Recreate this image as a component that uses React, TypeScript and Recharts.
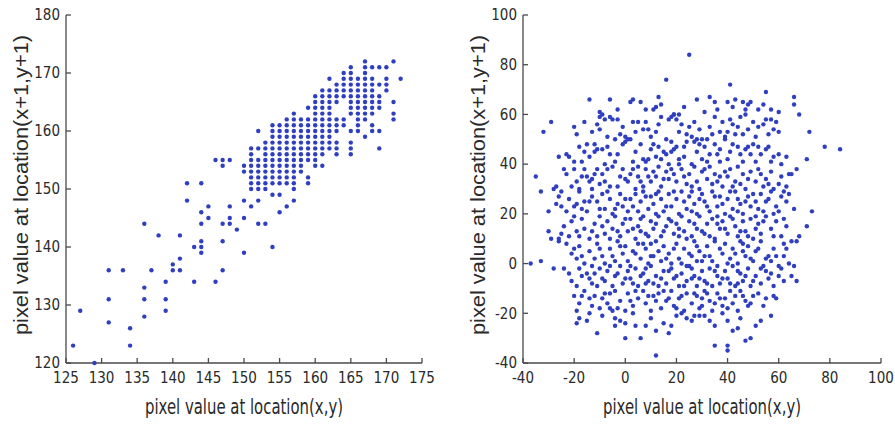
import { ScatterChart, Scatter, XAxis, YAxis } from 'recharts'

// left panel: pixel pairs of the original image, grouped by x column
const leftCols = [126, 127, 129, 131, 133, 134, 136, 137, 138, 139, 140, 141, 142, 143, 144, 145, 146, 147, 148, 149, 150,
  151, 152, 153, 154, 155, 156, 157, 158, 159, 160, 161, 162, 163, 164, 165, 166, 167, 168, 169, 170, 171, 172]
const leftRows = [
  [123], [129], [120], [136, 131, 127], [136], [126, 123], [144, 133, 131, 128], [136], [142], [134, 131, 129],
  [137, 136], [142, 138, 136], [151, 148], [140, 134], [151, 146, 144, 141, 140, 139], [147, 145], [155, 134],
  [155, 154, 144, 141, 136], [155, 147, 145, 144], [143], [154, 153, 148, 145, 139],
  [157, 156, 155, 154, 153, 152, 151, 150, 147],
  [160, 157, 155, 154, 153, 152, 151, 150, 148, 144],
  [158, 157, 156, 155, 154, 153, 152, 151, 150, 144],
  [161, 160, 159, 158, 157, 156, 155, 154, 153, 152, 151, 149, 140],
  [161, 160, 159, 158, 157, 156, 155, 154, 153, 152, 151, 149, 146],
  [162, 161, 160, 159, 158, 157, 156, 155, 154, 153, 152, 151, 147],
  [163, 162, 161, 160, 159, 158, 157, 156, 155, 154, 153, 152, 151, 150, 148],
  [162, 161, 160, 159, 158, 157, 156, 155, 154, 153],
  [164, 162, 161, 160, 159, 158, 157, 156, 155, 152, 151],
  [166, 165, 164, 163, 162, 161, 160, 159, 158, 157, 156, 155, 154],
  [167, 166, 165, 164, 163, 162, 161, 160, 159, 158, 157, 156, 154],
  [169, 167, 166, 165, 164, 163, 162, 161, 160, 159, 158, 157],
  [168, 167, 166, 165, 162, 161, 160, 158, 157, 156],
  [170, 169, 168, 167, 166, 162, 161],
  [171, 170, 169, 168, 167, 166, 165, 164, 163, 160, 158, 157, 156],
  [169, 168, 167, 166, 165, 164, 163, 162, 161, 160],
  [172, 171, 170, 169, 168, 167, 166, 165, 164, 163, 162, 159],
  [171, 169, 168, 167, 166, 165, 164, 163, 161, 160],
  [171, 168, 166, 165, 164, 160, 157],
  [171, 169, 168, 167],
  [172, 165, 163, 162],
  [169],
]
const leftXTicks = [125, 130, 135, 140, 145, 150, 155, 160, 165, 170, 175]
const leftYTicks = [120, 130, 140, 150, 160, 170, 180]

// right panel: differences as [x, y]
const rightPoints = [
  [25, 84], [16, 74], [41, 72],
  [-14, 66], [-6, 66], [2, 65], [3, 66], [6, 65], [12, 63], [13, 67], [28, 66], [33, 67], [35, 65], [40, 65], [43, 66],
  [46, 65], [48, 64], [49, 65], [54, 64], [55, 69], [57, 62], [60, 61], [66, 67], [66, 64], [68, 60], [-10, 61], [-9, 60],
  [14, 64], [19, 60], [21, 60], [31, 61], [42, 63], [52, 62], [11, 62],
  [-32, 53], [-29, 57], [-20, 55], [-19, 52], [-10, 54], [-10, 59], [-8, 58], [-6, 59], [-5, 58], [-3, 58], [-2, 52], [0, 51],
  [1, 50], [3, 57], [5, 57], [7, 54], [9, 54], [12, 53], [14, 59], [17, 58], [18, 59], [19, 60], [20, 58], [22, 56], [24, 52],
  [27, 57], [28, 50], [30, 50], [33, 55], [35, 59], [38, 57], [37, 53], [39, 51], [42, 56], [44, 55], [45, 59], [47, 60],
  [48, 54], [50, 57], [52, 55], [54, 56], [55, 58], [56, 52], [58, 54], [60, 53], [59, 57], [-13, 53], [-11, 56], [-4, 50],
  [8, 57], [16, 50], [26, 51], [32, 50], [41, 58], [43, 52],
  [-26, 43], [-23, 44], [-22, 43], [-20, 41], [-18, 47], [-16, 45], [-14, 43], [-12, 48], [-12, 45], [-11, 46], [-9, 46],
  [-7, 47], [-6, 44], [-3, 44], [-1, 48], [0, 49], [2, 50], [4, 45], [6, 48], [7, 42], [8, 41], [9, 42], [10, 46], [12, 43],
  [13, 47], [15, 45], [16, 44], [18, 45], [18, 49], [19, 46], [21, 42], [23, 43], [24, 49], [26, 40], [27, 49], [28, 45],
  [30, 42], [31, 47], [33, 44], [35, 48], [37, 41], [37, 46], [39, 50], [41, 45], [42, 48], [44, 47], [45, 44], [47, 46],
  [48, 47], [50, 48], [51, 41], [53, 44], [55, 46], [56, 47], [58, 43], [60, 44], [61, 40], [64, 36], [72, 53], [78, 47],
  [84, 46], [71, 42],
  [-35, 35], [-33, 29], [-27, 31], [-25, 29], [-23, 36], [-20, 38], [-19, 33], [-18, 30], [-17, 35], [-15, 35], [-14, 33],
  [-13, 34], [-13, 30], [-11, 38], [-9, 36], [-8, 33], [-7, 38], [-5, 39], [-3, 31], [-2, 35], [-1, 38], [1, 33], [2, 36],
  [4, 30], [5, 35], [7, 31], [8, 38], [10, 33], [11, 37], [13, 39], [14, 31], [16, 37], [17, 34], [19, 36], [20, 33],
  [21, 40], [22, 38], [24, 32], [25, 36], [27, 39], [28, 33], [30, 37], [32, 34], [33, 39], [34, 32], [36, 33], [37, 35],
  [38, 31], [40, 35], [41, 38], [43, 33], [44, 39], [46, 36], [47, 30], [49, 37], [51, 33], [52, 38], [54, 31], [55, 34],
  [57, 37], [58, 30], [61, 35], [63, 31], [65, 36], [67, 38], [-21, 31], [-10, 32], [12, 35], [29, 30],
  [-30, 21], [-28, 30], [-26, 27], [-25, 23], [-22, 26], [-20, 23], [-18, 29], [-16, 25], [-15, 21], [-13, 27], [-11, 25],
  [-9, 28], [-8, 22], [-6, 26], [-5, 20], [-3, 24], [-2, 28], [0, 26], [1, 21], [3, 23], [4, 28], [6, 25], [7, 29], [9, 22],
  [10, 27], [11, 24], [13, 29], [14, 26], [15, 21], [17, 28], [18, 23], [20, 26], [21, 20], [22, 29], [24, 22], [25, 27],
  [27, 24], [28, 20], [30, 28], [31, 25], [33, 21], [34, 29], [36, 23], [37, 27], [39, 20], [40, 26], [42, 22], [43, 29],
  [45, 24], [46, 20], [48, 27], [49, 23], [51, 25], [53, 28], [54, 21], [56, 26], [57, 29], [59, 23], [61, 27], [63, 25],
  [64, 28], [66, 22], [73, 21], [-19, 24], [-4, 22], [12, 20], [26, 29], [44, 26], [58, 20],
  [-30, 13], [-29, 10], [-26, 10], [-24, 15], [-21, 17], [-19, 13], [-17, 18], [-16, 14], [-14, 10], [-12, 16], [-10, 19],
  [-8, 12], [-7, 17], [-5, 14], [-4, 19], [-2, 11], [-1, 16], [1, 13], [2, 18], [4, 10], [5, 15], [7, 19], [8, 12], [10, 17],
  [11, 14], [13, 19], [14, 11], [16, 15], [17, 18], [19, 12], [20, 16], [22, 19], [23, 13], [25, 17], [26, 11], [28, 14],
  [29, 19], [31, 12], [32, 16], [34, 18], [35, 10], [37, 14], [38, 17], [40, 12], [41, 19], [43, 15], [44, 11], [46, 17],
  [47, 13], [49, 18], [50, 10], [52, 16], [53, 12], [55, 19], [57, 14], [59, 17], [61, 11], [63, 15], [65, 9], [67, 9],
  [71, 15], [68, 11], [-22, 11], [-11, 11], [6, 13], [21, 11], [36, 16], [51, 19],
  [-37, 0], [-33, 1], [-28, -2], [-24, -2], [-23, 8], [-21, 4], [-19, 2], [-18, 7], [-16, 0], [-14, 5], [-13, -1], [-11, 8],
  [-9, 3], [-8, 0], [-6, 6], [-4, 1], [-3, 9], [-1, 4], [0, 7], [2, -1], [3, 5], [5, 8], [6, 2], [8, 6], [9, 0], [11, 3],
  [12, 9], [14, 1], [15, 7], [17, 4], [18, 0], [20, 8], [21, 2], [23, 6], [24, -1], [26, 3], [27, 9], [29, 5], [30, 1],
  [32, 7], [33, 3], [35, 9], [36, -1], [38, 4], [39, 8], [41, 2], [42, 6], [44, 0], [45, 9], [47, 3], [48, 7], [50, 1],
  [51, 5], [53, 9], [54, -1], [56, 3], [57, 1], [58, 6], [60, -1], [62, 3], [64, 0], [66, -1], [67, -7], [-26, 9], [10, 8],
  [28, 1], [46, 5], [62, 8],
  [-19, -9], [-17, -5], [-15, -4], [-13, -8], [-12, -4], [-10, -2], [-8, -7], [-7, -3], [-5, -9], [-4, -5], [-2, -1],
  [-1, -8], [1, -3], [2, -6], [4, -2], [5, -9], [7, -4], [9, -7], [10, -1], [12, -5], [13, -9], [15, -3], [16, -8], [18, -2],
  [19, -6], [21, -9], [22, -4], [24, -7], [25, -1], [27, -5], [28, -9], [30, -3], [31, -7], [33, -2], [34, -9], [36, -5],
  [37, -8], [39, -3], [40, -6], [42, -1], [43, -9], [45, -4], [46, -7], [48, -2], [49, -9], [51, -5], [53, -8], [55, -3],
  [56, -6], [58, -9], [60, -5], [62, -7], [65, -5], [-22, -4], [-9, -6], [8, -8], [26, -6], [44, -8], [-21, -7],
  [-20, -13], [-19, -19], [-18, -16], [-16, -11], [-14, -14], [-12, -13], [-10, -18], [-8, -12], [-7, -16], [-5, -19],
  [-4, -11], [-2, -15], [0, -19], [1, -12], [3, -17], [5, -14], [7, -11], [8, -16], [10, -19], [11, -13], [13, -12],
  [14, -18], [16, -15], [18, -11], [19, -17], [21, -14], [23, -19], [24, -12], [26, -16], [28, -13], [29, -18], [31, -11],
  [33, -15], [34, -19], [36, -12], [38, -17], [39, -14], [41, -11], [42, -16], [44, -19], [46, -13], [47, -15], [48, -17],
  [49, -16], [52, -12], [54, -17], [58, -13], [59, -14], [-6, -18], [12, -15], [30, -14], [45, -11],
  [-19, -24], [-18, -22], [-15, -23], [-14, -20], [-11, -28], [-4, -25], [-4, -22], [0, -24], [0, -30], [6, -30], [8, -25],
  [12, -27], [15, -24], [17, -28], [20, -21], [24, -22], [27, -21], [31, -21], [35, -25], [38, -20], [42, -27], [45, -22],
  [47, -31], [49, -30], [51, -25], [57, -21], [3, -20], [22, -20],
  [12, -37], [35, -33], [40, -33], [40, -35],
  // second pass over the dense middle
  [-17, 41], [-15, 48], [-8, 40], [-4, 41], [3, 41], [5, 39], [11, 48], [14, 42], [17, 40], [20, 47], [23, 47], [29, 48],
  [32, 41], [36, 44], [40, 42], [46, 41], [49, 44], [52, 47], [57, 41], [63, 43], [-24, 38], [-16, 38], [-12, 36], [-6, 31],
  [0, 34], [3, 38], [6, 33], [9, 35], [15, 34], [18, 38], [23, 35], [26, 31], [31, 38], [35, 36], [39, 37], [42, 31],
  [45, 32], [48, 34], [53, 36], [56, 32], [60, 32], [-27, 24], [-23, 21], [-17, 22], [-14, 25], [-10, 22], [-7, 29],
  [-1, 23], [2, 26], [5, 21], [8, 27], [12, 28], [16, 23], [19, 29], [23, 25], [26, 21], [29, 26], [32, 23], [35, 27],
  [38, 24], [41, 29], [44, 21], [47, 25], [50, 28], [52, 22], [55, 25], [60, 21], [62, 29], [-25, 12], [-20, 19], [-18, 11],
  [-13, 13], [-9, 15], [-6, 10], [-3, 13], [0, 18], [3, 14], [6, 18], [9, 11], [12, 16], [15, 13], [18, 17], [21, 14],
  [24, 10], [27, 16], [30, 13], [33, 11], [36, 19], [39, 14], [42, 18], [45, 13], [48, 11], [51, 14], [54, 17], [58, 11],
  [62, 18], [-20, 6], [-17, 3], [-12, 2], [-10, 6], [-5, 3], [-2, 7], [1, 1], [4, 4], [7, 8], [10, 3], [13, 5], [16, 2],
  [19, 6], [22, 0], [25, 4], [28, 7], [31, 3], [34, 1], [37, 6], [40, 0], [43, 4], [46, 8], [49, 2], [52, 6], [55, 2],
  [59, 3], [63, 6], [-18, -2], [-14, -6], [-11, -9], [-6, -1], [-3, -4], [0, -6], [3, -8], [6, -5], [8, -2], [11, -8],
  [14, -6], [17, -3], [20, -5], [23, -9], [26, -2], [29, -6], [32, -8], [35, -3], [38, -6], [41, -8], [44, -3], [47, -5],
  [50, -7], [53, -2], [57, -4], [61, -2], [-17, -13], [-13, -17], [-9, -14], [-6, -12], [-3, -18], [2, -15], [4, -11],
  [9, -13], [15, -11], [17, -14], [20, -18], [22, -13], [27, -12], [30, -17], [32, -12], [35, -16], [37, -14], [40, -18],
  [43, -13], [50, -13], [55, -14], [-9, -21], [-2, -23], [4, -25], [10, -22], [18, -25], [26, -23], [29, -21], [33, -23],
  [40, -23], [44, -26], [53, -23], [-7, 51], [-1, 55], [4, 53], [10, 51], [13, 56], [21, 53], [25, 55], [29, 54], [34, 52],
  [40, 53], [46, 52], [51, 51], [57, 58], [-16, 57], [-3, 62], [8, 62], [23, 63], [36, 62], [47, 62],
]
const rightTicks = [-40, -20, 0, 20, 40, 60, 80, 100]

const leftData = leftCols.flatMap((x, i) => leftRows[i].map((y) => ({ x, y })))
const rightData = rightPoints.map(([x, y]) => ({ x, y }))

const DOT = '#2f3fbf'
const AXIS = '#4a4a4a'
const TEXT = '#2a2a2a'
const NARROW = "'Liberation Sans Narrow', 'DejaVu Sans Condensed', Arial, sans-serif"

const dot = (p: any) => <circle cx={p.cx} cy={p.cy} r={2.2} fill={DOT} />

function XLabel({ viewBox }: any) {
  const cx = viewBox.x + viewBox.width / 2
  return (
    <text
      x={cx}
      y={414}
      textAnchor="middle"
      fontSize={21}
      fontFamily={NARROW}
      fill={TEXT}
      textLength={198}
      lengthAdjust="spacingAndGlyphs"
    >
      pixel value at location(x,y)
    </text>
  )
}

function YLabel({ viewBox }: any) {
  const cx = viewBox.x + viewBox.width - 46
  const cy = viewBox.y + viewBox.height / 2 - 4
  return (
    <text
      x={cx}
      y={cy}
      transform={`rotate(-90 ${cx} ${cy})`}
      textAnchor="middle"
      dominantBaseline="central"
      fontSize={21}
      fontFamily="'Liberation Sans', Arial, sans-serif"
      fill={TEXT}
      textLength={300}
      lengthAdjust="spacingAndGlyphs"
    >
      pixel value at location(x+1,y+1)
    </text>
  )
}

interface PanelProps {
  data: { x: number; y: number }[]
  xTicks: number[]
  yTicks: number[]
  width: number
  margin: { top: number; right: number; bottom: number; left: number }
}

function Panel({ data, xTicks, yTicks, width, margin }: PanelProps) {
  const tick = { fontSize: 15, fill: TEXT, fontFamily: NARROW }
  return (
    <ScatterChart width={width} height={424} margin={margin}>
      <XAxis
        type="number"
        dataKey="x"
        domain={[xTicks[0], xTicks[xTicks.length - 1]]}
        ticks={xTicks}
        height={30}
        tick={tick}
        tickSize={-5}
        tickMargin={14}
        stroke={AXIS}
        strokeWidth={1.3}
        label={<XLabel />}
      />
      <YAxis
        type="number"
        dataKey="y"
        domain={[yTicks[0], yTicks[yTicks.length - 1]]}
        ticks={yTicks}
        width={40}
        tick={tick}
        tickSize={-5}
        tickMargin={11}
        stroke={AXIS}
        strokeWidth={1.3}
        label={<YLabel />}
      />
      <Scatter data={data} shape={dot} isAnimationActive={false} />
    </ScatterChart>
  )
}

export default function App() {
  return (
    <div style={{ position: 'absolute', left: 0, top: 0, width: 895, height: 424, background: '#fff' }}>
      <div style={{ position: 'absolute', left: 0, top: 0 }}>
        <Panel
          data={leftData}
          xTicks={leftXTicks}
          yTicks={leftYTicks}
          width={440}
          margin={{ top: 15, right: 18, bottom: 31, left: 26 }}
        />
      </div>
      <div style={{ position: 'absolute', left: 450, top: 0 }}>
        <Panel
          data={rightData}
          xTicks={rightTicks}
          yTicks={rightTicks}
          width={445}
          margin={{ top: 15, right: 14, bottom: 31, left: 33 }}
        />
      </div>
    </div>
  )
}
